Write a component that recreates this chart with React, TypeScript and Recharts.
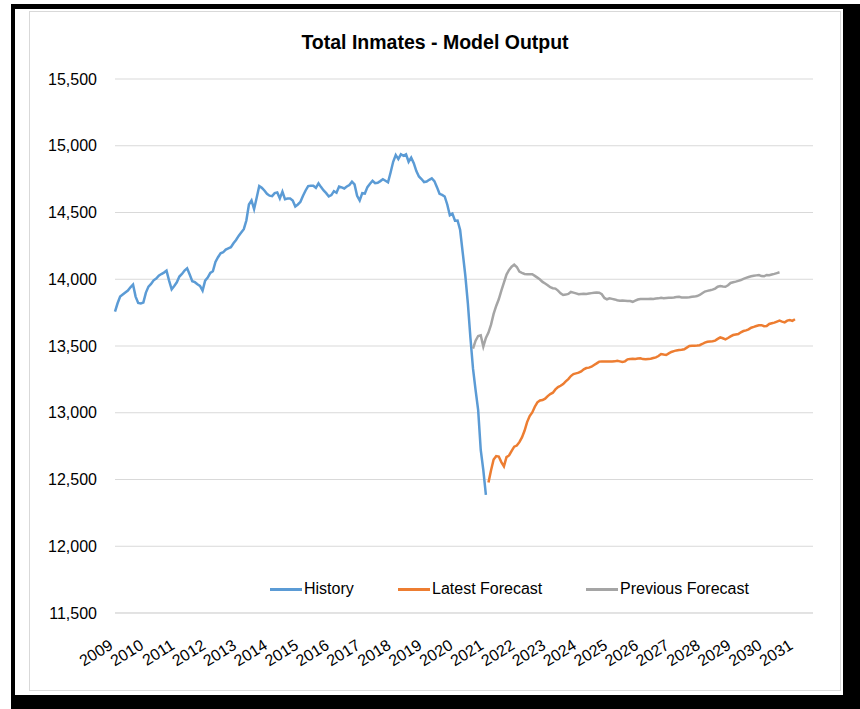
import { LineChart, Line, XAxis, YAxis, CartesianGrid, Legend } from "recharts";

const FONT = "'Liberation Sans', Arial, sans-serif";

const yearLabels = [
  "2009", "2010", "2011", "2012", "2013", "2014", "2015", "2016",
  "2017", "2018", "2019", "2020", "2021", "2022", "2023", "2024",
  "2025", "2026", "2027", "2028", "2029", "2030", "2031",
];
const yTicks = [11500, 12000, 12500, 13000, 13500, 14000, 14500, 15000, 15500];

// monthly, starting Jan 2009 (month index 0)
const history = [
  13757, 13820, 13870, 13885, 13900, 13915, 13940, 13960, 13870, 13822,
  13818, 13825, 13900, 13945, 13965, 13992, 14005, 14027, 14039, 14050,
  14064, 13990, 13925, 13950, 13977, 14020, 14040, 14065, 14082, 14035,
  13985, 13978, 13962, 13950, 13915, 13990, 14012, 14048, 14060, 14130,
  14165, 14195, 14202, 14222, 14232, 14240, 14270, 14294, 14325, 14350,
  14375, 14440, 14560, 14590, 14525, 14610, 14698, 14685, 14665, 14640,
  14626, 14623, 14645, 14650, 14606, 14656, 14600, 14605, 14605, 14590,
  14545, 14560, 14580, 14625, 14665, 14698, 14701, 14701, 14685, 14719,
  14690, 14665, 14645, 14620, 14630, 14660, 14648, 14695, 14688, 14680,
  14695, 14706, 14731, 14710, 14625, 14590, 14645, 14642, 14690, 14715,
  14738, 14720, 14722, 14735, 14749, 14738, 14726, 14800, 14880, 14931,
  14900, 14936, 14924, 14936, 14880, 14911, 14870, 14810, 14770, 14751,
  14728, 14732, 14745, 14756, 14735, 14690, 14640, 14632, 14620, 14560,
  14480, 14492, 14438, 14440, 14369, 14200, 14030, 13820, 13560, 13330,
  13170, 13020, 12721, 12571, 12384,
];

// previous forecast starts Aug 2020
const previousStart = 139;
const previousForecast = [
  13480, 13540, 13575, 13580, 13495, 13560, 13600, 13660, 13740, 13800,
  13850, 13915, 13975, 14035, 14070, 14094, 14110, 14092, 14057, 14048,
  14040, 14038, 14037, 14037, 14025, 14012, 13998, 13980, 13968, 13955,
  13940, 13933, 13930, 13915, 13895, 13882, 13885, 13890, 13905, 13900,
  13894, 13888, 13890, 13892, 13890, 13893, 13896, 13899, 13900, 13899,
  13888, 13860, 13850, 13857, 13853, 13849, 13843, 13839, 13840, 13839,
  13838, 13837, 13831, 13840, 13848, 13852, 13852, 13852, 13852, 13853,
  13852, 13855, 13857, 13862, 13858, 13860, 13862, 13862, 13863, 13867,
  13868, 13864, 13864, 13864, 13866, 13869, 13870, 13874, 13882, 13895,
  13908, 13913, 13917, 13922, 13930, 13944, 13949, 13946, 13944, 13955,
  13972, 13978, 13982, 13988, 13994, 14003, 14010, 14017, 14022, 14026,
  14029, 14032, 14024, 14022, 14032, 14030, 14035, 14040, 14046, 14052,
];

// latest forecast starts Feb 2021
const latestStart = 145;
const latestForecast = [
  12478, 12570, 12650, 12675, 12672, 12630, 12598, 12668, 12680, 12715,
  12746, 12754, 12780, 12815, 12865, 12930, 12975, 13002, 13045, 13078,
  13092, 13095, 13105, 13125, 13140, 13150, 13175, 13192, 13202, 13215,
  13235, 13252, 13275, 13290, 13295, 13300, 13310, 13325, 13335, 13338,
  13345, 13358, 13370, 13383, 13384, 13383, 13384, 13383, 13384, 13385,
  13390, 13385, 13380, 13385, 13400, 13403, 13404, 13403, 13407, 13408,
  13402, 13400, 13402, 13404, 13410, 13415, 13425, 13440, 13436, 13433,
  13445, 13455, 13462, 13467, 13470, 13472, 13476, 13488, 13500, 13502,
  13502, 13503, 13506, 13515, 13525, 13532, 13534, 13536, 13540, 13553,
  13565, 13558, 13550, 13560, 13572, 13582, 13586, 13590, 13603, 13612,
  13617, 13625, 13637, 13643, 13650, 13655, 13656, 13648, 13650, 13665,
  13670, 13675, 13683, 13690, 13683, 13677, 13690, 13695, 13688, 13700,
];

const lastMonth = latestStart + latestForecast.length - 1;
const rows = Array.from({ length: lastMonth + 1 }, (_, t) => ({
  t,
  history: history[t],
  previous: previousForecast[t - previousStart],
  latest: latestForecast[t - latestStart],
}));

const series = [
  { key: "history", name: "History", color: "#5B9BD5" },
  { key: "latest", name: "Latest Forecast", color: "#ED7D31" },
  { key: "previous", name: "Previous Forecast", color: "#A5A5A5" },
];

function YearTick({ x, y, payload }: any) {
  const label = yearLabels[Math.round(payload.value / 12)];
  const ax = x - 1;
  const ay = y + 35;
  return (
    <text
      x={ax}
      y={ay}
      textAnchor="end"
      transform={`rotate(-32, ${ax}, ${ay})`}
      fontSize={16}
      fontFamily={FONT}
      fill="#000"
    >
      {label}
    </text>
  );
}

function ChartLegend() {
  const widths = [128, 188, 180];
  return (
    <div style={{ display: "flex", fontFamily: FONT, fontSize: 16, color: "#000" }}>
      {series.map((s, i) => (
        <div key={s.key} style={{ display: "flex", alignItems: "center", width: widths[i] }}>
          <span style={{ display: "inline-block", width: 32, height: 3, background: s.color, marginRight: 2 }} />
          <span>{s.name}</span>
        </div>
      ))}
    </div>
  );
}

export default function App() {
  return (
    <div
      style={{
        position: "absolute",
        left: 0,
        top: 0,
        width: 860,
        height: 709,
        overflow: "hidden",
        background: "#fff",
      }}
    >
      <div
        style={{
          position: "absolute",
          left: 11,
          top: 4,
          width: 849,
          height: 705,
          boxSizing: "border-box",
          borderStyle: "solid",
          borderColor: "#000",
          borderWidth: "5px 17px 14px 4px",
        }}
      />
      <div
        style={{
          position: "absolute",
          left: 29,
          top: 11,
          width: 812,
          height: 680,
          boxSizing: "border-box",
          border: "1px solid #d9d9d9",
          background: "#fff",
        }}
      >
        <div
          style={{
            position: "absolute",
            left: 0,
            top: 18,
            width: 810,
            textAlign: "center",
            fontFamily: FONT,
            fontWeight: "bold",
            fontSize: 19.5,
            lineHeight: "24px",
            color: "#000",
          }}
        >
          Total Inmates - Model Output
        </div>
        <LineChart
          width={810}
          height={678}
          data={rows}
          margin={{ top: 67, right: 27, left: 0, bottom: 0 }}
        >
          <CartesianGrid stroke="#d9d9d9" vertical={false} />
          <XAxis
            dataKey="t"
            type="number"
            domain={[0, 271]}
            ticks={yearLabels.map((_, i) => i * 12)}
            interval={0}
            tick={<YearTick />}
            tickLine={false}
            tickSize={0}
            tickMargin={0}
            axisLine={{ stroke: "#d9d9d9" }}
            height={77}
          />
          <YAxis
            domain={[11500, 15500]}
            ticks={yTicks}
            interval={0}
            tickFormatter={(v) => Number(v).toLocaleString("en-US")}
            tick={{ fill: "#000", fontSize: 16, fontFamily: FONT }}
            tickLine={false}
            axisLine={false}
            tickMargin={12}
            width={85}
          />
          <Legend
            layout="horizontal"
            verticalAlign="middle"
            align="center"
            content={<ChartLegend />}
            wrapperStyle={{ left: 240, top: 568, width: 520 }}
          />
          {series.map((s) => (
            <Line
              key={s.key}
              type="linear"
              dataKey={s.key}
              name={s.name}
              stroke={s.color}
              strokeWidth={2.5}
              dot={false}
              activeDot={false}
              isAnimationActive={false}
            />
          ))}
        </LineChart>
      </div>
    </div>
  );
}
